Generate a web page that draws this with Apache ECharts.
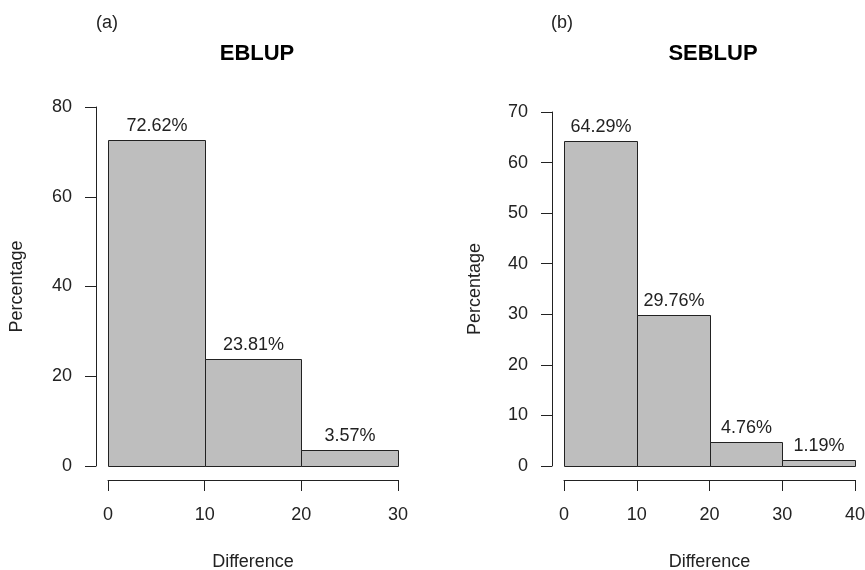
<!DOCTYPE html>
<html>
<head>
<meta charset="utf-8">
<script src="https://cdn.jsdelivr.net/npm/echarts@6/dist/echarts.min.js"></script>
<style>
  html, body { margin:0; padding:0; background:#fff; }
  #chart { width:865px; height:570px; }
</style>
</head>
<body>
<div id="chart"></div>
<script>
// histogram bin edges and percentages for each panel
const ebBins = [0, 10, 20, 30];
const ebPct = [72.62, 23.81, 3.57];
const sebBins = [0, 10, 20, 30, 40];
const sebPct = [64.29, 29.76, 4.76, 1.19];
const ebYTicks = [0, 80, 20];   // min, max, step
const sebYTicks = [0, 70, 10];

const FONT = 'Liberation Sans, Arial, sans-serif';
const INK = '#222';

const toBins = (edges, vals) => vals.map((v, i) => [edges[i], edges[i + 1], v]);

// draw each bin as a rectangle through the axis scales
function renderBin(params, api){
    let p0 = api.coord([api.value(0), 0]);
    let p1 = api.coord([api.value(1), api.value(2)]);
    let x0 = Math.round(p0[0]) + 0.5, x1 = Math.round(p1[0]) + 0.5;
    let yb = Math.round(p0[1]) + 0.5, yt = Math.round(p1[1]) + 0.5;
    return {
        type:'group',
        children:[
            {
                type:'rect',
                shape:{ x:x0, y:yt, width:x1 - x0, height:yb - yt },
                style:{ fill:'#bebebe', stroke:INK, lineWidth:1 }
            },
            {
                type:'text',
                x:(x0 + x1) / 2,
                y:yt - 5,
                style:{
                    text:api.value(2).toFixed(2) + '%',
                    align:'center',
                    verticalAlign:'bottom',
                    fontSize:18,
                    fontFamily:FONT,
                    fill:INK
                }
            }
        ]
    };
}

function xAxisFor(gridIndex, edges){
    return {
        gridIndex,
        type:'value',
        min:edges[0],
        max:edges[edges.length - 1],
        interval:10,
        offset:14,
        name:'Difference',
        nameLocation:'middle',
        nameGap:73,
        nameTextStyle:{ fontSize:18, fontFamily:FONT, color:INK },
        axisLine:{ show:true, onZero:false, lineStyle:{ color:INK, width:1 } },
        axisTick:{ show:true, length:11, lineStyle:{ color:INK } },
        axisLabel:{ margin:26, fontSize:18, fontFamily:FONT, color:INK },
        splitLine:{ show:false }
    };
}

function yAxisFor(gridIndex, ticks, gap){
    return {
        gridIndex,
        type:'value',
        min:ticks[0],
        max:ticks[1],
        interval:ticks[2],
        offset:12,
        name:'Percentage',
        nameLocation:'middle',
        nameGap:gap,
        nameTextStyle:{ fontSize:18, fontFamily:FONT, color:INK },
        axisLine:{ show:true, onZero:false, lineStyle:{ color:INK, width:1 } },
        axisTick:{ show:true, length:11, lineStyle:{ color:INK } },
        axisLabel:{ margin:24, fontSize:18, fontFamily:FONT, color:INK },
        splitLine:{ show:false }
    };
}

const titleText = { fontSize:18, fontWeight:'normal', fontFamily:FONT, color:INK };
const titleBold = { fontSize:22, fontWeight:'bold', fontFamily:FONT, color:'#000' };

let myChart = echarts.init(document.getElementById('chart'), null, { renderer:'canvas' });
let option = {
    animation:false,
    backgroundColor:'#fff',
    title:[
        { text:'(a)', left:91, top:9, textStyle:titleText },
        { text:'EBLUP', left:252, top:38, textAlign:'center', textStyle:titleBold },
        { text:'(b)', left:546, top:9, textStyle:titleText },
        { text:'SEBLUP', left:708, top:38, textAlign:'center', textStyle:titleBold }
    ],
    grid:[
        { left:108, top:107, width:290, height:359, outerBoundsMode:'none', containLabel:false },
        { left:564, top:112, width:291, height:354, outerBoundsMode:'none', containLabel:false }
    ],
    xAxis:[ xAxisFor(0, ebBins), xAxisFor(1, sebBins) ],
    yAxis:[ yAxisFor(0, ebYTicks, 70), yAxisFor(1, sebYTicks, 68) ],
    series:[
        {
            type:'custom',
            xAxisIndex:0,
            yAxisIndex:0,
            renderItem:renderBin,
            encode:{ x:[0, 1], y:2 },
            data:toBins(ebBins, ebPct)
        },
        {
            type:'custom',
            xAxisIndex:1,
            yAxisIndex:1,
            renderItem:renderBin,
            encode:{ x:[0, 1], y:2 },
            data:toBins(sebBins, sebPct)
        }
    ]
};
myChart.setOption(option);
</script>
</body>
</html>
